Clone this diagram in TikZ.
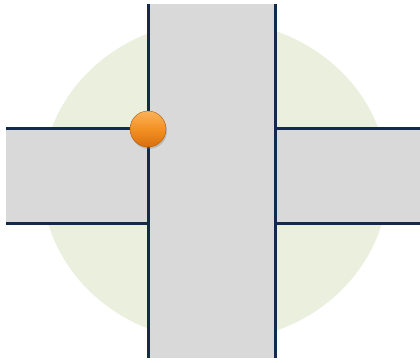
\documentclass[tikz,border=0pt]{standalone}
\usetikzlibrary{shadows}
\definecolor{roadline}{HTML}{132B4A}
\definecolor{roadfill}{HTML}{D9D9D9}
\definecolor{ground}{HTML}{EBF0DE}
\definecolor{ballmid}{HTML}{F39124}
\definecolor{balldark}{HTML}{D86F0E}
\definecolor{balllight}{HTML}{FBB25A}
\tikzset{
  edge/.style={draw=roadline, line width=3pt},
  road/.style={fill=roadfill, draw=none},
  marker/.style={circle, minimum size=36pt, inner sep=0pt, draw=balldark!80!black, line width=0.4pt,
    top color=balllight, bottom color=balldark, middle color=ballmid,
    drop shadow={shadow xshift=1pt, shadow yshift=-2pt, opacity=0.35}}
}
\begin{document}
\begin{tikzpicture}[x=1pt,y=-1pt]
\useasboundingbox (0,0) rectangle (420,363);
% ground
\fill[ground] (215,181) ellipse [x radius=173, y radius=160];
% roads
\fill[road] (148,4) rectangle (275,358);
\fill[road] (6,129) rectangle (148,224);
\fill[road] (275,129) rectangle (420,224);
% edges
\coordinate (vlt) at (148,4); \coordinate (vlb) at (148,358);
\coordinate (vrt) at (275,4); \coordinate (vrb) at (275,358);
\coordinate (ltl) at (6,129); \coordinate (ltr) at (148,129);
\coordinate (lbl) at (6,224); \coordinate (lbr) at (148,224);
\coordinate (rtl) at (275,129); \coordinate (rtr) at (420,129);
\coordinate (rbl) at (275,224); \coordinate (rbr) at (420,224);
\draw[edge] (vlt) -- (vlb);
\draw[edge] (vrt) -- (vrb);
\draw[edge] (ltl) -- (ltr);
\draw[edge] (lbl) -- (lbr);
\draw[edge] (rtl) -- (rtr);
\draw[edge] (rbl) -- (rbr);
% marker
\node[marker] (ball) at (148,129) {};
\end{tikzpicture}
\end{document}
